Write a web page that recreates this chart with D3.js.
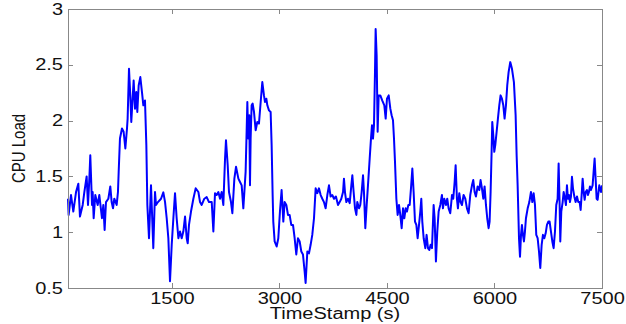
<!DOCTYPE html>
<meta charset="utf-8">
<style>
    body {
        margin: 0;
        background-color: #fff;
    }
    .axis text {
        font: 16px "Liberation Sans", Arial, sans-serif;
        fill: #111;
    }
    .axis line {
        stroke: #888;
        stroke-width: 1px;
        shape-rendering: crispEdges;
    }
    .frame {
        fill: none;
        stroke: #888;
        stroke-width: 1px;
        shape-rendering: crispEdges;
    }
    .line {
        fill: none;
        stroke: #0000ff;
        stroke-width: 2px;
        stroke-linejoin: round;
    }
    .label {
        font-family: "Liberation Sans", Arial, sans-serif;
        fill: #111;
    }
</style>
<body>
<svg width="626" height="324"></svg>
<script src="https://d3js.org/d3.v7.min.js"></script>
<script>
    // values
    var timeStamps = [
        50, 59, 92, 124, 162, 194, 217, 255, 278, 310, 329, 348, 361, 385, 394, 408, 431, 464, 487, 524,
        543, 561, 580, 613, 640, 659, 678, 696, 729, 747, 757, 775, 803, 826, 850, 873, 882, 901, 919, 933,
        966, 985, 1003, 1017, 1036, 1059, 1082, 1101, 1124, 1143, 1157, 1180, 1208, 1240, 1264, 1278, 1305, 1348, 1380, 1404,
        1427, 1450, 1473, 1497, 1520, 1543, 1566, 1590, 1613, 1636, 1659, 1683, 1706, 1720, 1738, 1766, 1799, 1831, 1869, 1892,
        1915, 1952, 1985, 2017, 2055, 2078, 2101, 2124, 2148, 2171, 2194, 2217, 2241, 2254, 2278, 2296, 2324, 2343, 2371, 2394,
        2427, 2450, 2473, 2496, 2528, 2542, 2552, 2565, 2579, 2589, 2598, 2612, 2626, 2645, 2668, 2691, 2714, 2738, 2761, 2784,
        2798, 2817, 2831, 2854, 2877, 2891, 2905, 2914, 2933, 2961, 2984, 3007, 3030, 3054, 3072, 3096, 3119, 3142, 3165, 3189,
        3212, 3235, 3258, 3282, 3305, 3328, 3351, 3365, 3389, 3412, 3435, 3458, 3482, 3505, 3528, 3551, 3575, 3598, 3621, 3644,
        3668, 3691, 3714, 3737, 3761, 3788, 3817, 3840, 3863, 3887, 3900, 3914, 3933, 3956, 3980, 4003, 4017, 4035, 4054, 4073,
        4086, 4110, 4128, 4147, 4166, 4179, 4198, 4217, 4235, 4259, 4277, 4291, 4305, 4319, 4333, 4342, 4356, 4370, 4384, 4407,
        4435, 4463, 4482, 4500, 4524, 4547, 4565, 4584, 4598, 4612, 4631, 4649, 4668, 4686, 4705, 4724, 4742, 4761, 4779, 4798,
        4817, 4835, 4854, 4872, 4891, 4910, 4928, 4947, 4965, 4979, 4993, 5012, 5035, 5053, 5072, 5090, 5109, 5128, 5151, 5165,
        5183, 5202, 5221, 5244, 5267, 5281, 5300, 5323, 5341, 5360, 5383, 5407, 5425, 5444, 5458, 5476, 5490, 5509, 5527, 5546,
        5569, 5593, 5616, 5639, 5662, 5686, 5704, 5723, 5741, 5765, 5788, 5806, 5825, 5844, 5862, 5881, 5899, 5918, 5932, 5946,
        5960, 5969, 5983, 5997, 6011, 6030, 6048, 6067, 6085, 6104, 6123, 6141, 6160, 6178, 6197, 6220, 6244, 6271, 6295, 6309,
        6323, 6342, 6356, 6370, 6383, 6397, 6411, 6425, 6439, 6463, 6486, 6509, 6528, 6546, 6565, 6583, 6602, 6621, 6639, 6658,
        6676, 6695, 6714, 6732, 6751, 6769, 6788, 6807, 6825, 6844, 6862, 6881, 6895, 6909, 6918, 6932, 6951, 6965, 6983, 6997,
        7011, 7025, 7039, 7053, 7067, 7081, 7095, 7114, 7132, 7151, 7169, 7188, 7202, 7216, 7230, 7244, 7258, 7272, 7290, 7304,
        7318, 7332, 7346, 7369, 7383, 7397, 7411, 7425, 7439, 7462, 7486, 7500
    ];
    var cpuLoad = [
        1.30, 1.155, 1.333, 1.185, 1.36, 1.435, 1.14, 1.244, 1.36, 1.50, 1.244, 1.48, 1.69, 1.244, 1.36, 1.125, 1.333, 1.244, 1.333, 1.125,
        1.244, 1.02, 1.27, 1.30, 1.41, 1.27, 1.214, 1.30, 1.244, 1.36, 1.54, 1.839, 1.929, 1.90, 1.75, 1.929, 2.018, 2.464, 2.226, 1.988,
        2.36, 2.107, 2.256, 2.077, 2.315, 2.39, 2.256, 2.137, 2.18, 1.78, 1.244, 0.946, 1.42, 0.857, 1.36, 1.244, 1.27, 1.30, 1.357, 1.27,
        1.125, 0.946, 0.56, 0.887, 1.125, 1.35, 1.125, 0.946, 1.006, 0.946, 1.006, 1.14, 0.946, 0.90, 1.065, 1.185, 1.30, 1.393, 1.36, 1.27,
        1.244, 1.30, 1.315, 1.27, 1.27, 1.006, 1.35, 1.333, 1.36, 1.30, 1.36, 1.244, 1.66, 1.824, 1.60, 1.36, 1.27, 1.17, 1.48, 1.586,
        1.48, 1.45, 1.42, 1.214, 1.54, 1.90, 2.167, 1.839, 2.048, 1.42, 1.839, 2.137, 2.152, 2.077, 1.914, 1.988, 1.973, 2.167, 2.345, 2.226,
        2.167, 2.196, 2.137, 2.092, 2.077, 1.78, 1.333, 1.095, 0.917, 0.872, 0.946, 1.185, 1.378, 1.095, 1.27, 1.244, 1.155, 1.155, 1.065, 1.065,
        0.946, 0.80, 0.946, 0.917, 0.827, 0.80, 0.65, 0.545, 0.827, 0.81, 0.887, 0.976, 1.125, 1.393, 1.35, 1.393, 1.333, 1.30, 1.27, 1.214,
        1.333, 1.42, 1.32, 1.333, 1.30, 1.32, 1.244, 1.27, 1.30, 1.36, 1.48, 1.36, 1.27, 1.30, 1.26, 1.42, 1.51, 1.36, 1.214, 1.155,
        1.27, 1.214, 1.244, 1.36, 1.51, 1.36, 1.036, 1.244, 1.42, 1.66, 1.839, 1.958, 1.839, 1.958, 2.435, 2.82, 2.583, 1.90, 2.226, 2.226,
        2.18, 2.137, 2.018, 2.196, 2.226, 2.107, 2.048, 2.003, 1.839, 1.63, 1.30, 1.155, 1.244, 1.155, 1.036, 1.214, 1.125, 1.214, 1.185, 1.244,
        1.244, 1.393, 1.57, 1.36, 1.095, 1.065, 0.946, 1.065, 1.185, 1.30, 1.095, 0.946, 0.857, 0.976, 0.857, 0.84, 0.887, 0.857, 1.244, 1.125,
        0.738, 1.006, 1.185, 1.244, 1.333, 1.214, 1.30, 1.244, 1.30, 1.214, 1.17, 1.333, 1.30, 1.45, 1.60, 1.30, 1.214, 1.35, 1.27, 1.244,
        1.333, 1.30, 1.214, 1.17, 1.333, 1.42, 1.467, 1.36, 1.32, 1.41, 1.378, 1.467, 1.393, 1.30, 1.41, 1.244, 1.125, 1.036, 1.095, 1.36,
        1.72, 1.988, 1.87, 1.72, 1.78, 1.90, 2.018, 2.137, 2.226, 2.196, 2.137, 2.018, 2.137, 2.315, 2.435, 2.524, 2.464, 2.345, 2.048, 1.69,
        1.42, 0.946, 0.78, 0.976, 1.065, 0.976, 0.917, 1.006, 1.125, 1.214, 1.27, 1.36, 1.27, 1.35, 1.244, 0.976, 0.946, 0.827, 0.68, 0.887,
        0.976, 0.946, 0.99, 1.065, 1.095, 1.095, 1.006, 0.917, 0.857, 1.006, 1.244, 1.30, 1.616, 1.244, 0.917, 1.185, 1.27, 1.36, 1.30, 1.244,
        1.42, 1.30, 1.333, 1.27, 1.32, 1.497, 1.393, 1.32, 1.27, 1.32, 1.27, 1.27, 1.20, 1.333, 1.48, 1.36, 1.29, 1.36, 1.378, 1.333,
        1.36, 1.41, 1.378, 1.42, 1.54, 1.66, 1.48, 1.30, 1.29, 1.42, 1.36, 1.42
    ];
    var xTicks = [1500, 3000, 4500, 6000, 7500];
    var yTicks = [0.5, 1, 1.5, 2, 2.5, 3];

    var data = timeStamps.map(function(t, i) { return {t: t, v: cpuLoad[i]}; });

    var svg = d3.select("svg"),
        margin = {top: 9, right: 24, bottom: 36, left: 68},
        width = +svg.attr("width") - margin.left - margin.right,
        height = +svg.attr("height") - margin.top - margin.bottom;

    var stretch = 1.25; // the picture is a bit wide, text too

    var x = d3.scaleLinear().domain([50, 7500]).range([0, width]);
    var y = d3.scaleLinear().domain([0.5, 3]).range([height, 0]);

    var g = svg.append("g")
        .attr("transform", "translate(" + margin.left + "," + margin.top + ")");

    var line = d3.line()
        .x(function(d) { return x(d.t); })
        .y(function(d) { return y(d.v); });

    g.append("path")
        .datum(data)
        .attr("class", "line")
        .attr("d", line);

    // inward ticks on all four sides, like matlab
    g.append("g")
        .attr("class", "axis axis--x")
        .attr("transform", "translate(0," + height + ")")
        .call(d3.axisBottom(x).tickValues(xTicks).tickSizeInner(-5).tickSizeOuter(0).tickPadding(5)
            .tickFormat(d3.format("d")));
    g.append("g")
        .attr("class", "axis axis--top")
        .call(d3.axisTop(x).tickValues(xTicks).tickSizeInner(-5).tickSizeOuter(0).tickFormat(""));
    g.append("g")
        .attr("class", "axis axis--y")
        .call(d3.axisLeft(y).tickValues(yTicks).tickSizeInner(-5).tickSizeOuter(0).tickPadding(5)
            .tickFormat(function(d) { return d; }));
    g.append("g")
        .attr("class", "axis axis--right")
        .attr("transform", "translate(" + width + ",0)")
        .call(d3.axisRight(y).tickValues(yTicks).tickSizeInner(-5).tickSizeOuter(0).tickFormat(""));

    g.selectAll(".axis .domain").remove();

    g.append("rect")
        .attr("class", "frame")
        .attr("x", 0.5)
        .attr("y", 0.5)
        .attr("width", width)
        .attr("height", height);

    g.append("text")
        .attr("class", "label xlabel")
        .attr("x", width / 2)
        .attr("y", height + 31)
        .style("font-size", "16px")
        .attr("text-anchor", "middle")
        .text("TimeStamp (s)");

    svg.append("text")
        .attr("class", "label")
        .attr("transform", "translate(25," + (margin.top + height / 2) + ") scale(" + stretch + ",1) rotate(-90)")
        .style("font-size", "15px")
        .attr("text-anchor", "middle")
        .text("CPU Load");

    // widen the horizontal texts
    g.selectAll(".axis text, .xlabel").each(function() {
        var w = this.getComputedTextLength();
        if (w > 0) {
            d3.select(this)
                .attr("textLength", w * stretch)
                .attr("lengthAdjust", "spacingAndGlyphs");
        }
    });
</script>
